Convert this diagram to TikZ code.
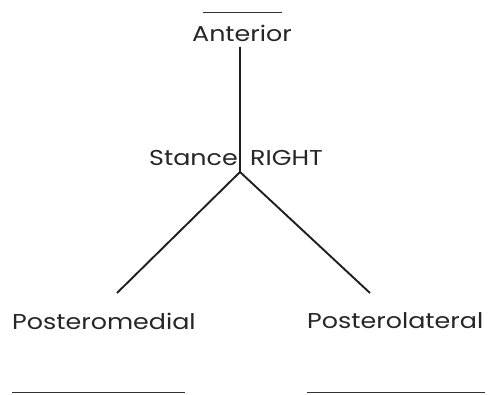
\documentclass[tikz,border=0pt]{standalone}
\usepackage{fontspec}
\setmainfont{Poppins}
\begin{document}
\begin{tikzpicture}[x=1pt,y=-1pt,
  lbl/.style={font=\fontsize{21.5}{24}\selectfont, text=black!85, inner sep=0pt, xscale=1.18, transform shape},
  ln/.style={line width=1.9pt, black!88},
  blank/.style={line width=0.9pt, black!80}]
\useasboundingbox (0,0) rectangle (490,395);
\node[lbl] (ant) at (242,33) {Anterior};
\node[lbl, anchor=east] (stance) at (238,158) {Stance};
\node[lbl, anchor=west] (right) at (250,158) {RIGHT};
\node[lbl, anchor=west] (pm) at (12,321) {Posteromedial};
\node[lbl, anchor=west] (pl) at (307,321) {Posterolateral};
\coordinate (top) at (240,47);
\coordinate (j) at (240,172);
\coordinate (l) at (117,293);
\coordinate (r) at (370,293);
\draw[ln] (top) -- (j) -- (l);
\draw[ln] (j) -- (r);
\coordinate (a1) at (203,12); \coordinate (a2) at (282,12);
\coordinate (b1) at (12,392); \coordinate (b2) at (185,392);
\coordinate (c1) at (307,392); \coordinate (c2) at (485,392);
\draw[blank] (a1) -- (a2);
\draw[blank] (b1) -- (b2);
\draw[blank] (c1) -- (c2);
\end{tikzpicture}
\end{document}
